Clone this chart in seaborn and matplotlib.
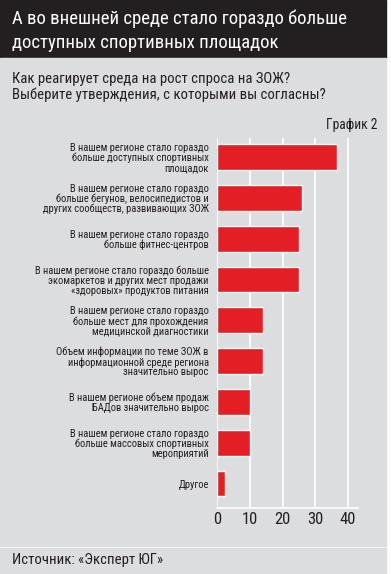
import numpy as np
import pandas as pd
import matplotlib
matplotlib.use('Agg')
import matplotlib.pyplot as plt
import seaborn as sns
from matplotlib.patches import Rectangle

categories = [
    "В нашем регионе стало гораздо\nбольше доступных спортивных\nплощадок",
    "В нашем регионе стало гораздо\nбольше бегунов, велосипедистов и\nдругих сообществ, развивающих ЗОЖ",
    "В нашем регионе стало гораздо\nбольше фитнес-центров",
    "В нашем регионе стало гораздо больше\nэкомаркетов и других мест продажи\n«здоровых» продуктов питания",
    "В нашем регионе стало гораздо\nбольше мест для прохождения\nмедицинской диагностики",
    "Объем информации по теме ЗОЖ в\nинформационной среде региона\nзначительно вырос",
    "В нашем регионе объем продаж\nБАДов значительно вырос",
    "В нашем регионе стало гораздо\nбольше массовых спортивных\nмероприятий",
    "Другое",
]
values = [36.5, 26, 25, 25, 14, 14, 10, 10, 2.3]
x_ticks = [0, 10, 20, 30, 40]

title = "А во внешней среде стало гораздо больше\nдоступных спортивных площадок"
subtitle = "Как реагирует среда на рост спроса на ЗОЖ?\nВыберите утверждения, с которыми вы согласны?"
chart_no = "График 2"
source = "Источник: «Эксперт ЮГ»"

df = pd.DataFrame({"cat": categories, "val": values})

sns.set_theme(style="white")
plt.rcParams['font.family'] = ['Roboto Condensed', 'DejaVu Sans']

DARK = "#231f20"
GRAY = "#dcdddf"
RED = "#e31e24"

W, H = 391, 574
fig = plt.figure(figsize=(W / 100, H / 100), dpi=100, facecolor="white")

def px_rect(x0, y0, x1, y1, color):
    fig.patches.append(Rectangle((x0 / W, 1 - y1 / H), (x1 - x0) / W, (y1 - y0) / H,
                                 transform=fig.transFigure, color=color, zorder=-10))

px_rect(0, 0, 386, 58, DARK)
px_rect(0, 58, 386, 546, GRAY)
px_rect(0, 548, 386, 574, GRAY)

fig.text(12 / W, 1 - 31 / H, title, color="white", fontsize=13.5, va="center", ha="left",
         linespacing=1.45)
fig.text(12 / W, 1 - 87 / H, subtitle, color=DARK, fontsize=10.6, va="center", ha="left",
         linespacing=1.15)
fig.text(377 / W, 1 - 125 / H, chart_no, color=DARK, fontsize=9.8, va="center", ha="right")
fig.text(12 / W, 1 - 560 / H, source, color=DARK, fontsize=10.6, va="center", ha="left")

ax = fig.add_axes([217 / W, 1 - 508 / H, (358 - 217) / W, (508 - 138) / H])
ax.set_facecolor("none")
sns.barplot(data=df, y="cat", x="val", orient="h", color=RED, width=0.63,
            saturation=1, ax=ax, zorder=3)
ax.set_xlim(0, 43)
ax.set_ylim(8.6, -0.47)
ax.set_xticks(x_ticks)
ax.set_xticklabels([str(t) for t in x_ticks], fontsize=12, color=DARK)
ax.set_yticks(range(len(categories)))
ax.set_yticklabels(categories, fontsize=7.6, color=DARK, ha="right", linespacing=0.98)
ax.tick_params(axis="both", length=0)
ax.tick_params(axis="y", pad=6)
ax.tick_params(axis="x", pad=3)
ax.set_xlabel("")
ax.set_ylabel("")
for s in ["top", "right", "left"]:
    ax.spines[s].set_visible(False)
ax.spines["bottom"].set_color("white")
ax.spines["bottom"].set_linewidth(1.2)
ax.xaxis.grid(True, color="white", linewidth=1.2, zorder=0)
ax.set_axisbelow(True)

fig.savefig("out.png", dpi=100)
